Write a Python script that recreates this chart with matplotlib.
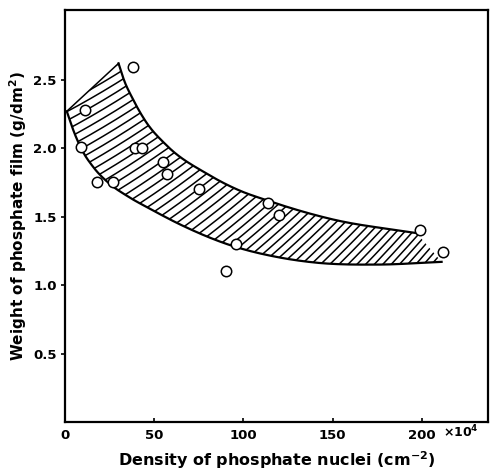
import numpy as np
import matplotlib
matplotlib.use("Agg")
import matplotlib.pyplot as plt
from matplotlib.patches import Polygon

# measured points (open circles)
density = [9, 11, 18, 27, 38, 39, 43, 55, 57, 75, 90, 96, 114, 120, 199, 212]
weight = [2.01, 2.28, 1.755, 1.755, 2.59, 2.0, 2.0, 1.90, 1.81, 1.70, 1.10, 1.30, 1.60, 1.51, 1.40, 1.24]

# boundaries of the hatched band
upper_x = [30, 33, 38, 45, 57, 80, 98, 113, 150, 197]
upper_y = [2.62, 2.50, 2.36, 2.20, 2.02, 1.81, 1.69, 1.62, 1.48, 1.38]
lower_x = [1, 5, 9.4, 16, 25, 35, 48, 65, 93, 121, 140, 175, 211]
lower_y = [2.27, 2.12, 1.99, 1.86, 1.74, 1.65, 1.555, 1.44, 1.29, 1.20, 1.165, 1.15, 1.17]

xticks = [0, 50, 100, 150, 200]
xtick_labels = ["0", "50", "100", "150", "200"]
yticks = [0.5, 1.0, 1.5, 2.0, 2.5]
ytick_labels = ["0.5", "1.0", "1.5", "2.0", "2.5"]

XMAX, YMAX = 237, 3.01


def smooth(xk, yk, n=300):
    # cubic hermite through the read points, only for drawing
    xk = np.asarray(xk, float)
    yk = np.asarray(yk, float)
    m = np.gradient(yk, xk)
    x = np.linspace(xk[0], xk[-1], n)
    i = np.clip(np.searchsorted(xk, x, side="right") - 1, 0, len(xk) - 2)
    h = xk[i + 1] - xk[i]
    t = (x - xk[i]) / h
    y = ((2 * t**3 - 3 * t**2 + 1) * yk[i] + (t**3 - 2 * t**2 + t) * h * m[i]
         + (-2 * t**3 + 3 * t**2) * yk[i + 1] + (t**3 - t**2) * h * m[i + 1])
    return x, y


plt.rcParams["font.family"] = "DejaVu Sans"
plt.rcParams["font.weight"] = "bold"
plt.rcParams["axes.labelweight"] = "bold"

W, H = 492, 471
fig = plt.figure(figsize=(W / 100, H / 100), dpi=100)
ax = fig.add_axes([65 / W, 49 / H, 423 / W, 412 / H])
ax.set_xlim(0, XMAX)
ax.set_ylim(0, YMAX)

ux, uy = smooth(upper_x, upper_y)
lx, ly = smooth(lower_x, lower_y)

band = Polygon(np.column_stack([np.r_[lx, ux[::-1]], np.r_[ly, uy[::-1]]]),
               closed=True, facecolor="none", edgecolor="none")
ax.add_patch(band)

# hatch lines, getting steeper toward the right
sx = 423 / XMAX
sy = 412 / YMAX
hx = np.linspace(0, XMAX, 400)
xp = hx * sx
G = (0.53 * xp + 0.00084 * xp**2) / sy
for c in np.arange(-3.0, 3.0, 9 / sy):
    ln, = ax.plot(hx, c + G, color="black", linewidth=1.1, zorder=2)
    ln.set_clip_path(band)

# left end of the band
ax.plot([lx[0], ux[0]], [ly[0], uy[0]], color="black", linewidth=1.1, zorder=2)
ax.plot(ux, uy, color="black", linewidth=1.6, zorder=3)
ax.plot(lx, ly, color="black", linewidth=1.6, zorder=3)

ax.plot(density, weight, linestyle="none", marker="o", markersize=7.5,
        markerfacecolor="white", markeredgecolor="black", markeredgewidth=1.1, zorder=4)

for s in ax.spines.values():
    s.set_linewidth(1.6)

ax.set_xticks(xticks)
ax.set_xticklabels(xtick_labels)
ax.set_yticks(yticks)
ax.set_yticklabels(ytick_labels)
ax.tick_params(axis="x", direction="in", length=3, width=1.2, pad=5, labelsize=9.5)
ax.tick_params(axis="y", direction="out", length=3, width=1.2, pad=3, labelsize=9.5)

ax.text(0.936, -0.024, r"$\times$10$^4$", transform=ax.transAxes,
        ha="center", va="center", fontsize=9)

ax.set_xlabel(r"Density of phosphate nuclei (cm$^{\mathbf{-2}}$)", fontsize=11.5)
ax.set_ylabel(r"Weight of phosphate film (g/dm$^{\mathbf{2}}$)", fontsize=11)
ax.xaxis.set_label_coords(0.5, -0.066)
ax.yaxis.set_label_coords(-0.085, 0.5)

fig.savefig("out.png", dpi=100)
